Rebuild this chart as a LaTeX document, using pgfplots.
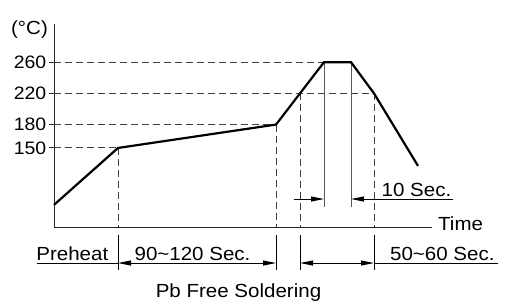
\documentclass[border=0pt]{standalone}
\usepackage{fontspec}
\setmainfont{Liberation Sans}[FakeStretch=1.08]
\usepackage{pgfplots}
\pgfplotsset{compat=1.18}
\usetikzlibrary{arrows.meta}
\newcommand{\tld}{\char"007E\relax}
\begin{document}
\fontsize{19bp}{21bp}\selectfont
\begin{tikzpicture}[x=1bp,y=1bp,
  dashline/.style={line width=1bp, black!75, dash pattern=on 7bp off 4bp},
  dim/.style={line width=1bp, black},
  tip/.style={-{Triangle[length=13bp,width=5bp]}},
  tips/.style={{Triangle[length=13bp,width=5bp]}-{Triangle[length=13bp,width=5bp]}}]
\useasboundingbox (-54,-76) rectangle (456,227);
\begin{axis}[
  at={(0,0)}, anchor=south west,
  scale only axis, width=378bp, height=203bp,
  xmin=0, xmax=378, ymin=48.6, ymax=309,
  axis lines=left, axis line style={-, line width=1bp, black!85},
  xtick=\empty,
  ytick={150,180,220,260},
  tick align=outside, major tick length=5bp,
  tick style={line width=1bp, black!85},
  yticklabel style={font=\fontsize{18bp}{20bp}\selectfont, inner sep=2.5bp},
  /pgf/number format/assume math mode=true,
  clip=false,
]
% guide lines
\draw[dashline] (axis cs:0,260) -- (axis cs:270,260);
\draw[dashline] (axis cs:0,220) -- (axis cs:320,220);
\draw[dashline] (axis cs:0,180) -- (axis cs:222,180);
\draw[dashline] (axis cs:0,150) -- (axis cs:64,150);
\draw[dashline] (axis cs:64,150) -- (axis cs:64,48.6);
\draw[dashline] (axis cs:222,180) -- (axis cs:222,48.6);
\draw[dashline] (axis cs:246,220) -- (axis cs:246,48.6);
\draw[dashline] (axis cs:320,220) -- (axis cs:320,48.6);
\draw[line width=1bp, black!65] (axis cs:270,260) -- (axis cs:270,74.2);
\draw[line width=1bp, black!65] (axis cs:297,260) -- (axis cs:297,74.2);
% profile
\addplot[line width=2.2bp, black, mark=none] coordinates {
  (0,77) (64,150) (222,180) (270,260) (297,260) (320,220) (364,127)};
% 10 Sec.
\draw[dim,tip] (axis cs:240,84.5) -- (axis cs:270,84.5);
\draw[dim,tip] (axis cs:399,84.5) -- (axis cs:297,84.5);
\node[anchor=base, inner sep=0] at (axis cs:362.5,88.3) {10 Sec.};
% extension lines below the axis
\draw[dim] (axis cs:64,38.3) -- (axis cs:64,-6.6);
\draw[dim] (axis cs:222,38.3) -- (axis cs:222,-6.6);
\draw[dim] (axis cs:246,38.3) -- (axis cs:246,-6.6);
\draw[dim] (axis cs:320,38.3) -- (axis cs:320,-6.6);
% dimension line
\draw[dim] (axis cs:-17.3,2.4) -- (axis cs:64,2.4);
\draw[dim,tips] (axis cs:64,2.4) -- (axis cs:222,2.4);
\draw[dim,tips] (axis cs:246,2.4) -- (axis cs:320,2.4);
\draw[dim] (axis cs:320,2.4) -- (axis cs:444,2.4);
\node[anchor=base, inner sep=0] at (axis cs:18.3,6.2) {Preheat};
\node[anchor=base, inner sep=0] at (axis cs:138.5,6.2) {90\tld 120 Sec.};
\node[anchor=base, inner sep=0] at (axis cs:388.3,6.2) {50\tld 60 Sec.};
\node[anchor=base, inner sep=0] at (axis cs:184.5,-41.2) {Pb Free Soldering};
\node[anchor=base west, inner sep=0] at (axis cs:384,44.7) {Time};
\node[anchor=base, inner sep=0] at (axis cs:-24.5,294.9) {(°C)};
\end{axis}
\end{tikzpicture}
\end{document}
